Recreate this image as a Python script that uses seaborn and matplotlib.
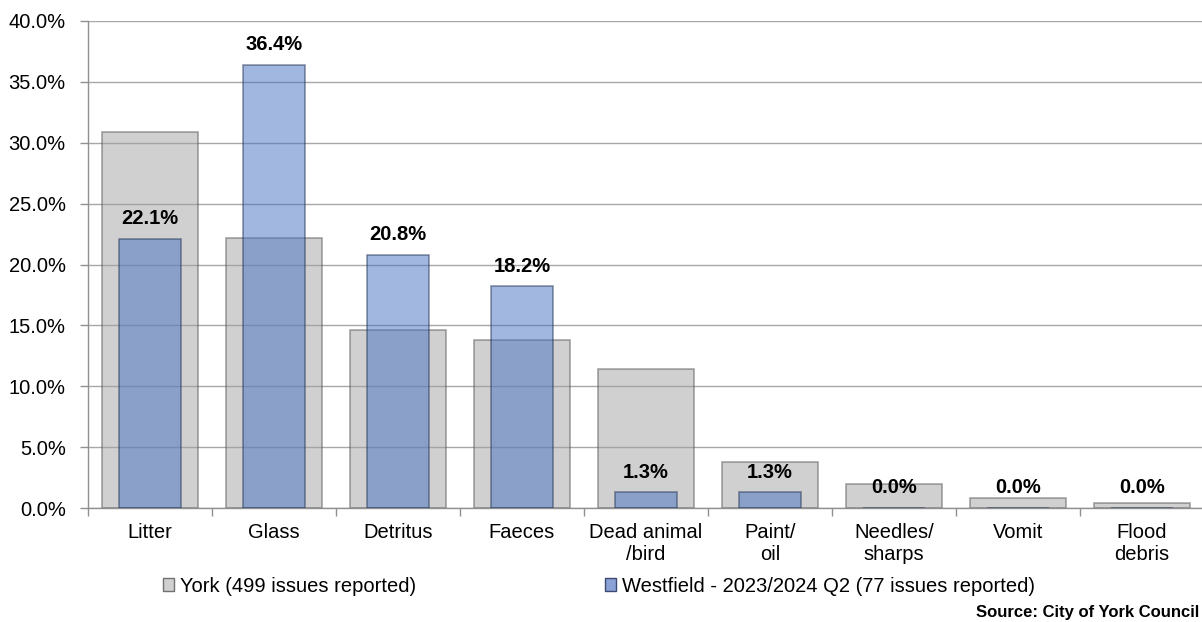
import numpy as np
import pandas as pd
import matplotlib
matplotlib.use("Agg")
import matplotlib.pyplot as plt
import seaborn as sns
from matplotlib.patches import Patch
from matplotlib.ticker import FuncFormatter, FixedLocator

# ── Données ──────────────────────────────────────────────────
categories = ["Litter", "Glass", "Detritus", "Faeces", "Dead animal\n/bird",
              "Paint/\noil", "Needles/\nsharps", "Vomit", "Flood\ndebris"]
york_pct      = [30.9, 22.2, 14.6, 13.8, 11.4, 3.8, 2.0, 0.8, 0.4]
westfield_pct = [22.1, 36.4, 20.8, 18.2, 1.3, 1.3, 0.0, 0.0, 0.0]
york_label      = "York (499 issues reported)"
westfield_label = "Westfield - 2023/2024 Q2 (77 issues reported)"
y_ticks = [0, 5, 10, 15, 20, 25, 30, 35, 40]

GRAY = "#a2a2a2"
BLUE = "#4571c1"
FS = 14.5

sns.set_style("white")
plt.rcParams["font.family"] = ["Liberation Sans", "DejaVu Sans"]

df = pd.DataFrame({"cat": categories, "york": york_pct, "west": westfield_pct})

fig = plt.figure(figsize=(12.02, 6.22), dpi=100)
ax = fig.add_axes([88 / 1202, 114 / 622, 1116 / 1202, 487 / 622])

sns.barplot(data=df, x="cat", y="york", color=GRAY, width=0.77, alpha=0.5,
            edgecolor="#505050", linewidth=1.2, saturation=1, ax=ax, zorder=2)
sns.barplot(data=df, x="cat", y="west", color=BLUE, width=0.5, alpha=0.5,
            edgecolor="#1f2f50", linewidth=1.2, saturation=1, ax=ax, zorder=3)

# Étiquettes de valeurs (série Westfield)
for i, v in enumerate(westfield_pct):
    ax.annotate(f"{v:.1f}%", (i, v), xytext=(0, 14.5), textcoords="offset points",
                ha="center", va="center", fontsize=FS, fontweight="bold",
                color="black", zorder=5)

# Axes
ax.set_ylim(0, 40)
ax.set_xlim(-0.5, len(categories) - 0.5)
ax.set_yticks(y_ticks)
ax.yaxis.set_major_formatter(FuncFormatter(lambda v, _: f"{v:.1f}%"))
ax.yaxis.grid(True, color="#a8a8a8", linewidth=1)
ax.set_axisbelow(True)
ax.set_xlabel("")
ax.set_ylabel("")

ax.xaxis.set_minor_locator(FixedLocator(np.arange(-0.5, len(categories), 1)))
ax.tick_params(axis="x", which="major", length=0, pad=11, labelsize=FS,
               labelcolor="black")
ax.tick_params(axis="x", which="minor", length=6, width=1, color="#909090",
               bottom=True)
ax.tick_params(axis="y", length=6, width=1, color="#909090", left=True,
               labelsize=FS, pad=10, labelcolor="black")

for side in ["top", "right"]:
    ax.spines[side].set_visible(False)
for side in ["left", "bottom"]:
    ax.spines[side].set_color("#909090")
    ax.spines[side].set_linewidth(1)

# Légende
h_york = Patch(facecolor="#d0d0d0", edgecolor="#707070", linewidth=1)
h_west = Patch(facecolor="#8aa2d6", edgecolor="#3a4a70", linewidth=1)
leg_kw = dict(frameon=False, loc="center left", borderpad=0, borderaxespad=0,
              handlelength=0.55, handleheight=0.65, handletextpad=0.3,
              fontsize=FS, labelcolor="black")
fig.legend([h_york], [york_label], bbox_to_anchor=(163 / 1202, 36 / 622), **leg_kw)
fig.legend([h_west], [westfield_label], bbox_to_anchor=(605 / 1202, 36 / 622), **leg_kw)

fig.text(1199 / 1202, 10 / 622, "Source: City of York Council", fontsize=12,
         fontweight="bold", ha="right", va="center", color="black")

fig.savefig("out.png", dpi=100)
plt.close(fig)
